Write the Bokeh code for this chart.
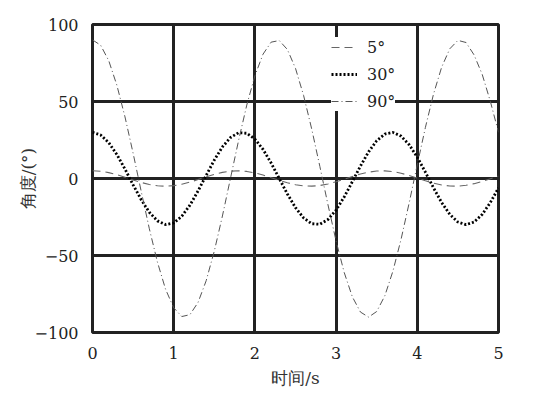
from bokeh.plotting import figure
from bokeh.models import Range1d, FixedTicker, Legend, LegendItem
from bokeh.embed import file_html
from bokeh.resources import INLINE

# time (s)
t = [0.0, 0.1, 0.2, 0.3, 0.4, 0.5, 0.6, 0.7, 0.8, 0.9,
     1.0, 1.1, 1.2, 1.3, 1.4, 1.5, 1.6, 1.7, 1.8, 1.9,
     2.0, 2.1, 2.2, 2.3, 2.4, 2.5, 2.6, 2.7, 2.8, 2.9,
     3.0, 3.1, 3.2, 3.3, 3.4, 3.5, 3.6, 3.7, 3.8, 3.9,
     4.0, 4.1, 4.2, 4.3, 4.4, 4.5, 4.6, 4.7, 4.8, 4.9, 5.0]

# angle (deg), initial amplitude 5 deg
theta_5 = [5.0, 4.69, 3.81, 2.46, 0.81, -0.94, -2.58, -3.90, -4.74, -5.00,
           -4.65, -3.72, -2.35, -0.68, 1.07, 2.69, 3.98, 4.78, 4.99, 4.60,
           3.63, 2.23, 0.55, -1.20, -2.80, -4.06, -4.82, -4.98, -4.54, -3.54,
           -2.11, -0.41, 1.33, 2.91, 4.14, 4.85, 4.97, 4.48, 3.44, 1.99,
           0.28, -1.46, -3.02, -4.21, -4.88, -4.95, -4.42, -3.35, -1.86, -0.15, 1.59]

# initial amplitude 30 deg
theta_30 = [30.0, 28.27, 23.27, 15.59, 6.11, -4.09, -13.80, -21.93, -27.52, -29.93,
            -28.89, -24.51, -17.30, -8.09, 2.05, 11.96, 20.49, 26.64, 29.72, 29.37,
            25.63, 18.94, 10.05, 0.0, -10.05, -18.94, -25.63, -29.37, -29.72, -26.64,
            -20.49, -11.96, -2.05, 8.09, 17.30, 24.51, 28.89, 29.93, 27.52, 21.93,
            13.80, 4.09, -6.11, -15.59, -23.27, -28.27, -30.0, -28.27, -23.27, -15.59, -6.11]

# initial amplitude 90 deg
theta_90 = [90.0, 86.56, 76.51, 60.60, 40.04, 16.45, -8.41, -32.62, -54.36, -71.94,
            -83.98, -89.63, -88.43, -80.46, -66.35, -47.16, -24.35, 0.31, 24.94, 47.68,
            66.76, 80.72, 88.54, 89.58, 83.76, 71.51, 53.86, 32.05, 7.80, -17.05,
            -40.61, -61.06, -76.83, -86.73, -90.0, -86.38, -76.17, -60.12, -39.50, -15.83,
            9.03, 33.20, 54.86, 72.29, 84.21, 89.69, 88.31, 80.18, 67.5, 50.0, 30.0]

series_labels = ["5°", "30°", "90°"]
x_ticks = [0, 1, 2, 3, 4, 5]
y_ticks = [-100, -50, 0, 50, 100]
y_tick_labels = {-100: "\u2212100", -50: "\u221250", 0: "0", 50: "50", 100: "100"}

SERIF = "DejaVu Serif"
TXT = "#222222"

p = figure(frame_width=406, frame_height=308,
           min_border_left=92, min_border_right=30,
           min_border_top=24, min_border_bottom=60,
           x_range=Range1d(0, 5), y_range=Range1d(-100, 100),
           output_backend="svg", toolbar_location=None,
           background_fill_color="white", border_fill_color="white")

p.outline_line_color = "#222222"
p.outline_line_width = 3

for ax in (p.xaxis[0], p.yaxis[0]):
    ax.axis_line_color = None
    ax.major_tick_line_color = None
    ax.minor_tick_line_color = None
    ax.major_label_text_font = SERIF
    ax.major_label_text_font_size = "16px"
    ax.major_label_text_color = TXT
    ax.axis_label_text_font = SERIF
    ax.axis_label_text_font_size = "17px"
    ax.axis_label_text_font_style = "normal"
    ax.axis_label_text_color = "#333333"

p.xaxis.ticker = FixedTicker(ticks=x_ticks)
p.yaxis.ticker = FixedTicker(ticks=y_ticks)
p.yaxis.major_label_overrides = y_tick_labels
p.xaxis.major_label_standoff = 8
p.yaxis.major_label_standoff = 8
p.xaxis.axis_label = "时间/s"
p.yaxis.axis_label = "角度/(°)"
p.xaxis.axis_label_standoff = 6
p.yaxis.axis_label_standoff = -6

for g in (p.xgrid[0], p.ygrid[0]):
    g.grid_line_color = "#222222"
    g.grid_line_width = 3
    g.grid_line_alpha = 1.0
p.xgrid.ticker = FixedTicker(ticks=x_ticks)
p.ygrid.ticker = FixedTicker(ticks=y_ticks)

r5 = p.line(t, theta_5, line_color="#666666", line_width=1.1, line_dash="8 5")
r30 = p.line(t, theta_30, line_color="#000000", line_width=2.8, line_dash="2 2")
r90 = p.line(t, theta_90, line_color="#555555", line_width=1.0, line_dash="7 3 1 3")

legend = Legend(items=[LegendItem(label=series_labels[0], renderers=[r5]),
                       LegendItem(label=series_labels[1], renderers=[r30]),
                       LegendItem(label=series_labels[2], renderers=[r90])],
                location=(239, 221),
                background_fill_color="white", background_fill_alpha=1.0,
                border_line_color=None,
                label_text_font=SERIF, label_text_font_size="16px",
                label_text_color=TXT,
                glyph_width=26, glyph_height=20, label_height=20,
                label_standoff=10, spacing=7, padding=5, margin=0)
p.add_layout(legend)

open("out.html", "w").write(file_html(p, INLINE))
